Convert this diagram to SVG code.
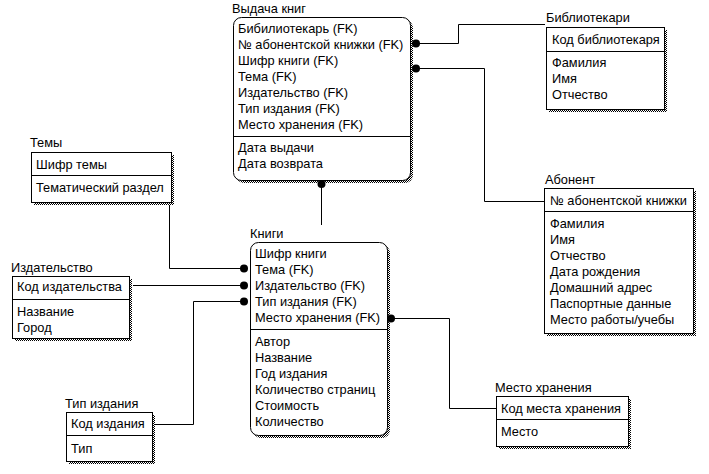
<svg xmlns="http://www.w3.org/2000/svg" width="709" height="474" viewBox="0 0 709 474">
<defs>
<pattern id="dith" width="2" height="2" patternUnits="userSpaceOnUse">
<rect width="2" height="2" fill="#ffffff"/>
<rect width="1" height="1" fill="#000000"/>
<rect x="1" y="1" width="1" height="1" fill="#000000"/>
</pattern>
</defs>
<style>
text{font-family:"Liberation Sans",Arial,sans-serif;font-size:12.8px;fill:#000}
.box{fill:#fff;stroke:#000;stroke-width:1}
.sh{fill:url(#dith);stroke:none}
.div{stroke:#000;stroke-width:1}
.ln{fill:none;stroke:#000;stroke-width:1}
.dot{fill:#000}
</style>
<rect width="709" height="474" fill="#fff"/>

<g id="connectors">
<path class="ln" d="M416.5,43.5 H458.5 V24.5 H545"/>
<path class="ln" d="M416.5,68.5 H484.5 V201.5 H544"/>
<path class="ln" d="M321.5,184 V225"/>
<path class="ln" d="M169.5,202 V268.5 H244"/>
<path class="ln" d="M133,285.5 H244"/>
<path class="ln" d="M152,424.5 H193.5 V301.5 H244"/>
<path class="ln" d="M391,318.5 H449.5 V408.5 H496"/>
</g>

<g id="vydacha">
<text x="232" y="13">Выдача книг</text>
<rect class="sh" x="236" y="20" width="177" height="163" rx="8"/>
<rect class="box" x="233.5" y="17.5" width="177" height="163" rx="8"/>
<line class="div" x1="233.5" y1="136.5" x2="410.5" y2="136.5"/>
<text x="238" y="32.5">Бибилиотекарь (FK)</text>
<text x="238" y="48.5">№ абонентской книжки (FK)</text>
<text x="238" y="64.5">Шифр книги (FK)</text>
<text x="238" y="80.5">Тема (FK)</text>
<text x="238" y="96.5">Издательство (FK)</text>
<text x="238" y="112.5">Тип издания (FK)</text>
<text x="238" y="128.5">Место хранения (FK)</text>
<text x="238" y="152">Дата выдачи</text>
<text x="238" y="168">Дата возврата</text>
<circle class="dot" cx="416" cy="43.5" r="4"/>
<circle class="dot" cx="416" cy="68.5" r="4"/>
<circle class="dot" cx="321.5" cy="184" r="4"/>
</g>

<g id="bibliotekari">
<text x="546" y="22">Библиотекари</text>
<rect class="sh" x="549" y="30" width="118" height="82"/>
<rect class="box" x="546.5" y="27.5" width="118" height="82"/>
<line class="div" x1="546.5" y1="51.5" x2="664.5" y2="51.5"/>
<text x="552" y="43.5">Код библиотекаря</text>
<text x="552" y="66.5">Фамилия</text>
<text x="552" y="82.5">Имя</text>
<text x="552" y="98.5">Отчество</text>
</g>

<g id="temy">
<text x="30" y="147">Темы</text>
<rect class="sh" x="34" y="155" width="140" height="50"/>
<rect class="box" x="31.5" y="152.5" width="140" height="50"/>
<line class="div" x1="31.5" y1="175.5" x2="171.5" y2="175.5"/>
<text x="36" y="168.5">Шифр темы</text>
<text x="36" y="192">Тематический раздел</text>
</g>

<g id="izdatelstvo">
<text x="11" y="271.5">Издательство</text>
<rect class="sh" x="15" y="279" width="117" height="62"/>
<rect class="box" x="12.5" y="276.5" width="117" height="62"/>
<line class="div" x1="12.5" y1="299.5" x2="129.5" y2="299.5"/>
<text x="17" y="291">Код издательства</text>
<text x="17" y="316">Название</text>
<text x="17" y="332">Город</text>
</g>

<g id="tip_izdaniya">
<text x="65" y="407.5">Тип издания</text>
<rect class="sh" x="69" y="415" width="86" height="49"/>
<rect class="box" x="66.5" y="412.5" width="86" height="49"/>
<line class="div" x1="66.5" y1="435.5" x2="152.5" y2="435.5"/>
<text x="71" y="428">Код издания</text>
<text x="71" y="452.5">Тип</text>
</g>

<g id="knigi">
<text x="250" y="237.5">Книги</text>
<rect class="sh" x="253" y="245" width="137" height="193" rx="8"/>
<rect class="box" x="250.5" y="242.5" width="137" height="193" rx="8"/>
<line class="div" x1="250.5" y1="329.5" x2="387.5" y2="329.5"/>
<text x="255" y="257.5">Шифр книги</text>
<text x="255" y="273.5">Тема (FK)</text>
<text x="255" y="289.5">Издательство (FK)</text>
<text x="255" y="305.5">Тип издания (FK)</text>
<text x="255" y="322">Место хранения (FK)</text>
<text x="255" y="346">Автор</text>
<text x="255" y="362">Название</text>
<text x="255" y="378">Год издания</text>
<text x="255" y="394">Количество страниц</text>
<text x="255" y="410">Стоимость</text>
<text x="255" y="426">Количество</text>
<circle class="dot" cx="244" cy="268.5" r="4"/>
<circle class="dot" cx="244" cy="285.5" r="4"/>
<circle class="dot" cx="244" cy="301.5" r="4"/>
<circle class="dot" cx="391" cy="318.5" r="4"/>
</g>

<g id="abonent">
<text x="545" y="183.5">Абонент</text>
<rect class="sh" x="547" y="191" width="149" height="145"/>
<rect class="box" x="544.5" y="188.5" width="149" height="145"/>
<line class="div" x1="544.5" y1="211.5" x2="693.5" y2="211.5"/>
<text x="550" y="205">№ абонентской книжки</text>
<text x="550" y="227.5">Фамилия</text>
<text x="550" y="243.5">Имя</text>
<text x="550" y="259.5">Отчество</text>
<text x="550" y="275.5">Дата рождения</text>
<text x="550" y="291.5">Домашний адрес</text>
<text x="550" y="307.5">Паспортные данные</text>
<text x="550" y="323.5">Место работы/учебы</text>
</g>

<g id="mesto_hraneniya">
<text x="495" y="391.5">Место хранения</text>
<rect class="sh" x="499" y="399" width="132" height="50"/>
<rect class="box" x="496.5" y="396.5" width="132" height="50"/>
<line class="div" x1="496.5" y1="419.5" x2="628.5" y2="419.5"/>
<text x="501" y="412.5">Код места хранения</text>
<text x="501" y="436">Место</text>
</g>
</svg>
